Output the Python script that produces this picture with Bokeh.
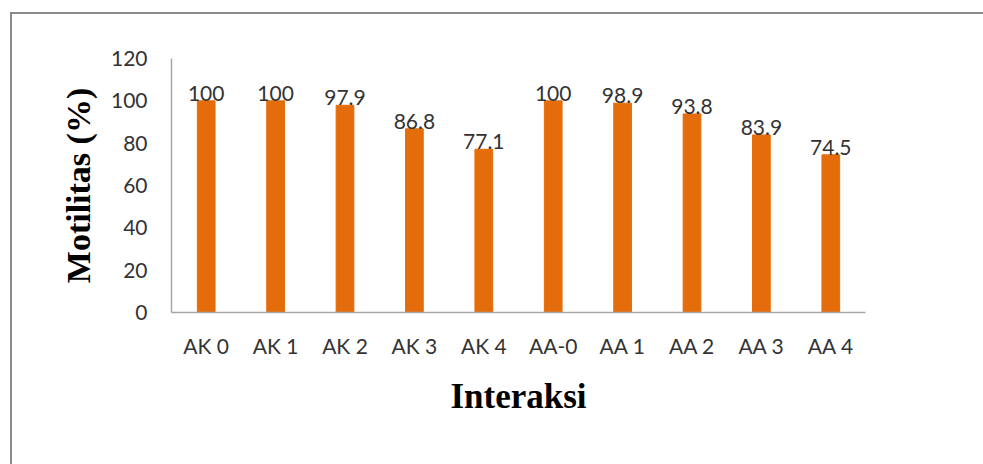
from bokeh.plotting import figure
from bokeh.models import ColumnDataSource, FixedTicker, Range1d
from bokeh.core.properties import value
from bokeh.embed import file_html
from bokeh.resources import INLINE

categories = ["AK 0", "AK 1", "AK 2", "AK 3", "AK 4", "AA-0", "AA 1", "AA 2", "AA 3", "AA 4"]
motilitas = [100, 100, 97.9, 86.8, 77.1, 100, 98.9, 93.8, 83.9, 74.5]
value_labels = ["100", "100", "97.9", "86.8", "77.1", "100", "98.9", "93.8", "83.9", "74.5"]
y_ticks = [0, 20, 40, 60, 80, 100, 120]

src = ColumnDataSource(data=dict(cat=categories, val=motilitas, lab=value_labels))

p = figure(
    x_range=categories, y_range=Range1d(0, 120),
    width=967, height=448,
    output_backend="svg", toolbar_location=None,
    min_border_left=171, min_border_right=102,
    min_border_top=58, min_border_bottom=136,
)

p.vbar(x="cat", top="val", width=0.255, source=src, fill_color="#E46C0A", line_color="#E46C0A")
p.text(x="cat", y="val", text="lab", source=src, text_align="center",
       text_baseline="bottom", y_offset=0,
       text_font=value("Lato"), text_font_size="21px", text_color="#333333")

p.xgrid.visible = False
p.ygrid.visible = False
p.outline_line_color = None

for ax in (p.xaxis[0], p.yaxis[0]):
    ax.major_tick_line_color = None
    ax.minor_tick_line_color = None
    ax.axis_line_color = "#A6A6A6"
    ax.axis_line_width = 1.5
    ax.major_label_text_font = "Lato"
    ax.major_label_text_font_size = "21px"
    ax.major_label_text_color = "#333333"
    ax.axis_label_text_font = "Liberation Serif"
    ax.axis_label_text_font_style = "bold"
    ax.axis_label_text_color = "#000000"

p.yaxis.ticker = FixedTicker(ticks=y_ticks)
p.yaxis.axis_label = "Motilitas (%)"
p.yaxis.axis_label_text_font_size = "34px"
p.yaxis.major_label_standoff = 18
p.yaxis.axis_label_standoff = 11

p.xaxis.axis_label = "Interaksi"
p.xaxis.axis_label_text_font_size = "35px"
p.xaxis.major_label_standoff = 14
p.xaxis.axis_label_standoff = 16

html = file_html(p, INLINE)
# chart-area frame: top and left edges only (right/bottom lie outside the window)
frame_div = ('<div style="position:fixed;left:10px;top:12px;right:-20px;bottom:-20px;'
             'border-top:2px solid #8a8a8a;border-left:2px solid #8a8a8a;'
             'pointer-events:none;z-index:10"></div>')
html = html.replace("</body>", frame_div + "\n</body>", 1)
open("out.html", "w").write(html)
